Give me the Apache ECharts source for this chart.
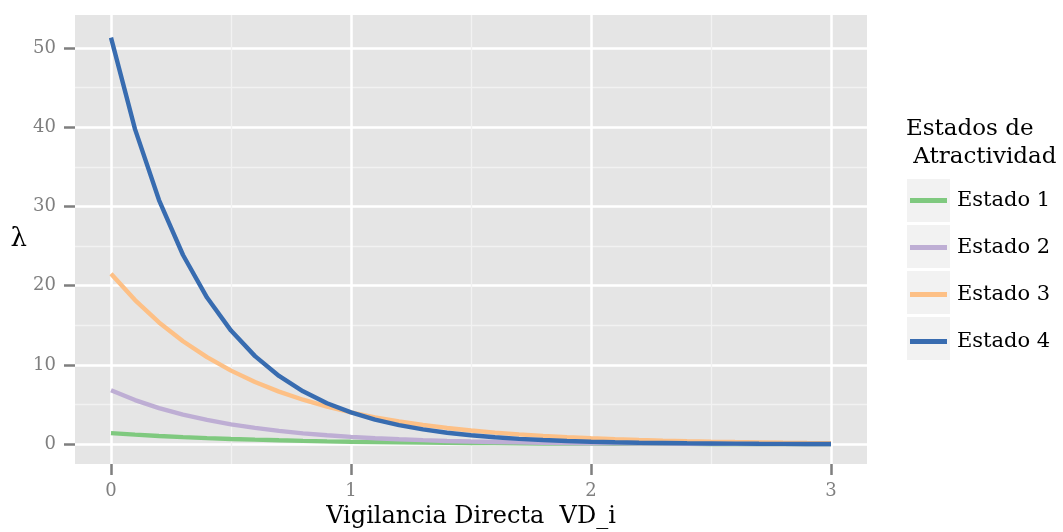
<!DOCTYPE html>
<html>
<head>
<meta charset="utf-8">
<script src="https://cdn.jsdelivr.net/npm/echarts@6/dist/echarts.min.js"></script>
<style>html,body{margin:0;padding:0;background:#fff}#c{width:1063px;height:532px}</style>
</head>
<body>
<div id="c"></div>
<script>
// Data (x step 0.1 from 0 to 3)
const vd = [0,0.1,0.2,0.3,0.4,0.5,0.6,0.7,0.8,0.9,1.0,1.1,1.2,1.3,1.4,1.5,1.6,1.7,1.8,1.9,2.0,2.1,2.2,2.3,2.4,2.5,2.6,2.7,2.8,2.9,3.0];
const estado1 = [1.40,1.20,1.04,0.89,0.77,0.66,0.57,0.49,0.42,0.36,0.31,0.27,0.23,0.20,0.17,0.15,0.13,0.11,0.09,0.08,0.07,0.06,0.05,0.04,0.04,0.03,0.03,0.02,0.02,0.02,0.02];
const estado2 = [6.80,5.57,4.56,3.73,3.06,2.50,2.05,1.68,1.37,1.12,0.92,0.75,0.62,0.51,0.41,0.34,0.28,0.23,0.19,0.15,0.12,0.10,0.08,0.07,0.06,0.05,0.04,0.03,0.03,0.02,0.02];
const estado3 = [21.5,18.18,15.36,12.99,10.98,9.28,7.85,6.63,5.61,4.74,4.01,3.39,2.86,2.42,2.05,1.73,1.46,1.24,1.05,0.88,0.75,0.63,0.53,0.45,0.38,0.32,0.27,0.23,0.19,0.16,0.14];
const estado4 = [51.3,39.75,30.8,23.87,18.5,14.33,11.11,8.61,6.67,5.17,4.01,3.10,2.41,1.86,1.44,1.12,0.87,0.67,0.52,0.40,0.31,0.24,0.19,0.15,0.11,0.09,0.07,0.05,0.04,0.03,0.02];
const seriesNames = ['Estado 1','Estado 2','Estado 3','Estado 4'];
const xTicks = [0,1,2,3];
const xMinor = [0.5,1.5,2.5];
const yTicks = [0,10,20,30,40,50];
const yMinor = [5,15,25,35,45];

const colors = ['#7FC97F','#BEAED4','#FDC086','#386CB0'];
const FONT = 'DejaVu Serif';
const allSeries = [estado1, estado2, estado3, estado4];

const chart = echarts.init(document.getElementById('c'), null, {renderer:'canvas'});
const xMin = -0.15, xMax = 3.15, yMin = -2.5, yMax = 54.15;

const majorLine = {show:true, lineStyle:{color:'#FFFFFF', width:2.5}};
const minorLine = {show:true, lineStyle:{color:'#F2F2F2', width:1.3}};
const tickStyle = {show:true, length:11, lineStyle:{color:'#7F7F7F', width:2.5}};
const labelStyle = {color:'#7F7F7F', fontFamily:FONT, fontSize:18};
const hiddenLine = {show:false, onZero:false};

const keyBoxes = [0,1,2,3].map(i => ({
  type:'rect', left:907, top:179 + i*46, shape:{width:43, height:43},
  style:{fill:'#F2F2F2'}, z:0
}));

chart.setOption({
  animation:false,
  backgroundColor:'#FFFFFF',
  title:{
    text:'Estados de\n Atractividad', left:906, top:115, padding:0,
    textStyle:{fontFamily:FONT, fontSize:23, fontWeight:'normal', color:'#000', lineHeight:28}
  },
  graphic: keyBoxes,
  legend:{
    data: seriesNames, orient:'vertical', left:910, top:190, padding:0,
    itemWidth:37, itemHeight:5, itemGap:26, icon:'rect',
    textStyle:{fontFamily:FONT, fontSize:21, color:'#000', lineHeight:20, padding:[0,0,0,5]},
    z:5
  },
  grid:{left:75, top:15, width:792, height:449, show:true, backgroundColor:'#E5E5E5', borderWidth:0,
        containLabel:false, outerBoundsMode:'none'},
  xAxis:[
    {type:'value', min:xMin, max:xMax, position:'bottom',
     axisLine:hiddenLine,
     axisTick:Object.assign({customValues:xTicks}, tickStyle),
     axisLabel:Object.assign({customValues:xTicks, margin:18}, labelStyle),
     splitLine:majorLine,
     name:'Vigilancia Directa  VD_i', nameLocation:'middle', nameGap:39,
     nameTextStyle:{fontFamily:FONT, fontSize:24, color:'#000'}
    },
    {type:'value', min:xMin, max:xMax, position:'bottom',
     axisLine:hiddenLine,
     axisTick:{show:false, customValues:xMinor},
     axisLabel:{show:false, customValues:xMinor},
     splitLine:minorLine
    }
  ],
  yAxis:[
    {type:'value', min:yMin, max:yMax, position:'left',
     axisLine:hiddenLine,
     axisTick:Object.assign({customValues:yTicks}, tickStyle),
     axisLabel:Object.assign({customValues:yTicks, margin:19}, labelStyle),
     splitLine:majorLine,
     name:'λ', nameLocation:'middle', nameGap:48, nameRotate:0,
     nameTextStyle:{fontFamily:FONT, fontSize:26, color:'#000', verticalAlign:'middle', padding:[24,0,0,0]}
    },
    {type:'value', min:yMin, max:yMax, position:'left',
     axisLine:hiddenLine,
     axisTick:{show:false, customValues:yMinor},
     axisLabel:{show:false, customValues:yMinor},
     splitLine:minorLine
    }
  ],
  series: allSeries.map((arr, i) => ({
    name: seriesNames[i], type:'line', xAxisIndex:0, yAxisIndex:0,
    showSymbol:false, symbol:'none', smooth:false,
    data: vd.map((x, j) => [x, arr[j]]),
    lineStyle:{color:colors[i], width:4.4},
    itemStyle:{color:colors[i]},
    z: 2 + i
  }))
});
</script>
</body>
</html>
